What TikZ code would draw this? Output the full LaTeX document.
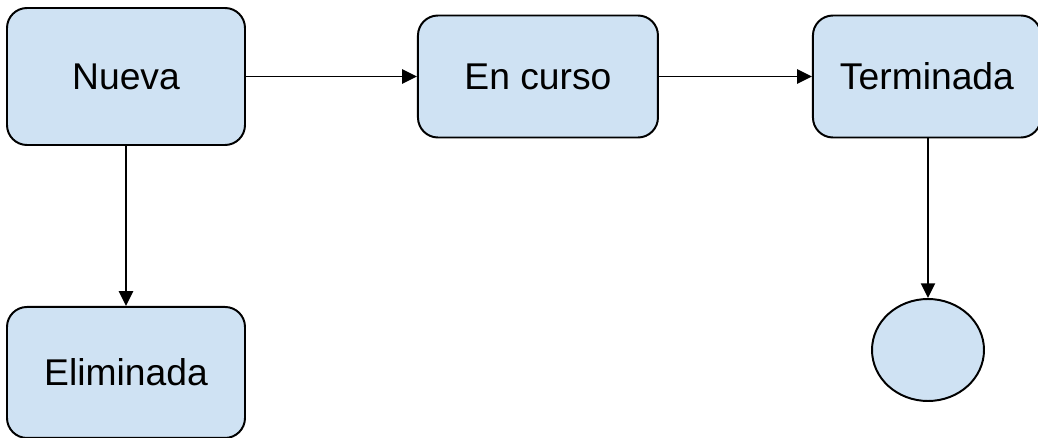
\documentclass[tikz,border=0pt]{standalone}
\usepackage{fontspec}
\setmainfont{Liberation Sans}
\usepackage{tikz}
\usetikzlibrary{positioning,arrows.meta,shapes.geometric}
\definecolor{estado}{HTML}{CFE2F3}

\begin{document}
\begin{tikzpicture}[
estadobox/.style={draw,rectangle,rounded corners=.5cm,fill=estado,line width=1.4pt,
    font=\fontsize{26.5}{31}\selectfont,inner sep=0pt},
finbox/.style={draw,ellipse,fill=estado,line width=1.4pt,minimum width=2.8cm,minimum height=2.55cm},
flecha/.style={line width=1.4pt,-{Triangle[length=10.5pt,width=10pt]}}]
\useasboundingbox (0,0) rectangle (25.95,-10.95);
\node (nueva) [estadobox,minimum width=5.95cm,minimum height=3.425cm] at (3.15,-1.9125) {Nueva};
\node (curso) [estadobox,minimum width=6cm,minimum height=3.05cm,right=4.275cm of nueva] {En curso};
\node (term) [estadobox,minimum width=5.7cm,minimum height=3.05cm,right=3.825cm of curso] {Terminada};
\node (elim) [estadobox,minimum width=5.95cm,minimum height=3.275cm,below=4cm of nueva] {Eliminada};
\node (fin) [finbox] at (23.2,-8.75) {};
\draw [flecha] (nueva) -- (curso);
\draw [flecha] (curso) -- (term);
\draw [flecha] (nueva) -- (elim);
\draw [flecha] (term.south -| fin) -- (fin);
\end{tikzpicture}
\end{document}
